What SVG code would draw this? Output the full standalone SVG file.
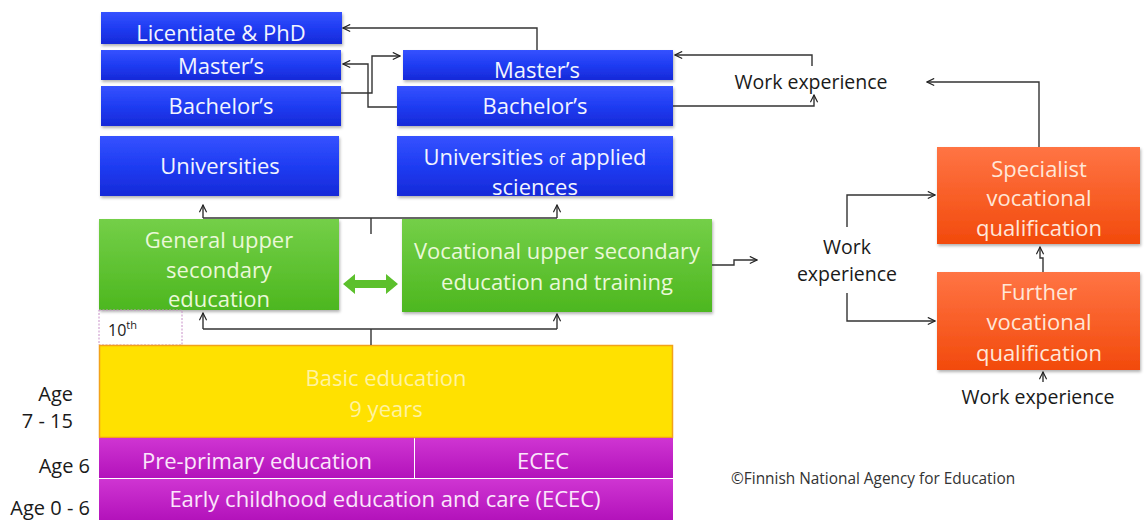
<svg xmlns="http://www.w3.org/2000/svg" width="1145" height="520" viewBox="0 0 1145 520">
<defs>
<linearGradient id="gBlue" x1="0" y1="0" x2="0" y2="1"><stop offset="0" stop-color="#3552ff"/><stop offset="0.5" stop-color="#1f3cf2"/><stop offset="1" stop-color="#1629d8"/></linearGradient>
<linearGradient id="gGreen" x1="0" y1="0" x2="0" y2="1"><stop offset="0" stop-color="#74cf48"/><stop offset="1" stop-color="#4db71f"/></linearGradient>
<linearGradient id="gOrange" x1="0" y1="0" x2="0" y2="1"><stop offset="0" stop-color="#ff7444"/><stop offset="1" stop-color="#f24a0c"/></linearGradient>
<linearGradient id="gPurple" x1="0" y1="0" x2="0" y2="1"><stop offset="0" stop-color="#cf35d2"/><stop offset="1" stop-color="#b312bb"/></linearGradient>
<filter id="sh" x="-5%" y="-10%" width="110%" height="130%"><feDropShadow dx="1" dy="2" stdDeviation="1.5" flood-color="#000" flood-opacity="0.3"/></filter>
<marker id="ah" viewBox="0 0 10 10" refX="9" refY="5" markerWidth="9" markerHeight="9" markerUnits="userSpaceOnUse" orient="auto"><path d="M1,1 L9,5 L1,9" fill="none" stroke="#222" stroke-width="1.3"/></marker>
</defs>
<style>
.t{font-family:"Open Sans","Noto Sans",sans-serif;text-anchor:middle}
.f{font-family:"Open Sans","Noto Sans",sans-serif}
.w{fill:#f2f4ff;font-size:22px}
.g{fill:#eaf8d8;font-size:22px}
.o{fill:#ffe6d8;font-size:22px}
.p{fill:#fbe6fb;font-size:22px}
.y{fill:#fff3a0;font-size:22px}
.k{fill:#1a1a1a;font-size:19.5px}
.a{fill:#1a1a1a;font-size:20px;text-anchor:end}
.c{stroke:#333;stroke-width:1.4;fill:none}
.blue{fill:url(#gBlue);filter:url(#sh)}
.green{fill:url(#gGreen);filter:url(#sh)}
.orange{fill:url(#gOrange);filter:url(#sh)}
.purple{fill:url(#gPurple)}
</style>
<rect width="1145" height="520" fill="#fff"/>

<g id="licentiate"><rect class="blue" x="101" y="12" width="241" height="32"/><text class="t w" x="221" y="41">Licentiate &amp; PhD</text></g>
<g id="masters-uni"><rect class="blue" x="101" y="50" width="240" height="30"/><text class="t w" x="221" y="74">Master’s</text></g>
<g id="bachelors-uni"><rect class="blue" x="101" y="86" width="240" height="40"/><text class="t w" x="221" y="114">Bachelor’s</text></g>
<g id="universities"><rect class="blue" x="100" y="136" width="239" height="60"/><text class="t w" x="220" y="174">Universities</text></g>
<g id="masters-uas"><rect class="blue" x="403" y="50" width="270" height="30"/><text class="t w" x="537" y="78">Master’s</text></g>
<g id="bachelors-uas"><rect class="blue" x="397" y="86" width="276" height="40"/><text class="t w" x="535" y="114">Bachelor’s</text></g>
<g id="uas"><rect class="blue" x="397" y="136" width="276" height="60"/><text class="t w" x="535" y="165">Universities <tspan font-size="17">of</tspan> applied</text><text class="t w" x="535" y="195">sciences</text></g>

<g id="general-upper"><rect class="green" x="99" y="219" width="240" height="91"/><text class="t g" x="219" y="248">General upper</text><text class="t g" x="219" y="278">secondary</text><text class="t g" x="219" y="307">education</text></g>
<g id="vocational-upper"><rect class="green" x="402" y="219" width="310" height="93"/><text class="t g" x="557" y="259">Vocational upper secondary</text><text class="t g" x="557" y="290">education and training</text></g>
<g id="tenth"><rect x="99" y="310" width="83" height="35" fill="none" stroke="#c890c8" stroke-width="1" stroke-dasharray="2,1.5"/><text class="f" x="108" y="336" font-size="16" fill="#1a1a1a">10<tspan font-size="11" dy="-7">th</tspan></text></g>

<g id="basic"><rect x="99.5" y="345.5" width="573" height="92" fill="#ffe100" stroke="#f2a21a" stroke-width="1.5"/><text class="t y" x="386" y="386">Basic education</text><text class="t y" x="386" y="417">9 years</text></g>
<g id="preprimary"><rect class="purple" x="99" y="438" width="315" height="40"/><text class="t p" x="257" y="469">Pre-primary education</text></g>
<g id="ecec6"><rect class="purple" x="415" y="438" width="258" height="40"/><text class="t p" x="543" y="469">ECEC</text></g>
<g id="ecec"><rect class="purple" x="99" y="479" width="574" height="41"/><text class="t p" x="385" y="507">Early childhood education and care (ECEC)</text></g>

<g id="specialist"><rect class="orange" x="937" y="147" width="203" height="97"/><text class="t o" x="1039" y="177">Specialist</text><text class="t o" x="1039" y="206">vocational</text><text class="t o" x="1039" y="236">qualification</text></g>
<g id="further"><rect class="orange" x="937" y="272" width="203" height="98"/><text class="t o" x="1039" y="300">Further</text><text class="t o" x="1039" y="330">vocational</text><text class="t o" x="1039" y="361">qualification</text></g>

<g id="work-top"><text class="t k" x="811" y="89">Work experience</text></g>
<g id="work-mid"><text class="t k" x="847" y="254">Work</text><text class="t k" x="847" y="281">experience</text></g>
<g id="work-bottom"><text class="t k" x="1038" y="404">Work experience</text></g>

<g id="labels">
<text class="f a" x="73" y="401">Age</text>
<text class="f a" x="73" y="428">7 - 15</text>
<text class="f a" x="90" y="473">Age 6</text>
<text class="f a" x="90" y="515">Age 0 - 6</text>
<text class="f" x="731" y="484" font-size="15.4" fill="#333">©Finnish National Agency for Education</text>
</g>

<g id="connectors">
<path class="c" d="M537 50 V28 H343" marker-end="url(#ah)"/>
<path class="c" d="M341 93 H372 V56 H400" marker-end="url(#ah)"/>
<path class="c" d="M397 107 H368 V64 H343" marker-end="url(#ah)"/>
<path class="c" d="M812 66 V55 H675" marker-end="url(#ah)"/>
<path class="c" d="M673 106 H814 V95" marker-end="url(#ah)"/>
<path class="c" d="M1039 147 V82 H927" marker-end="url(#ah)"/>
<path class="c" d="M847 227 V195 H935" marker-end="url(#ah)"/>
<path class="c" d="M847 293 V321 H935" marker-end="url(#ah)"/>
<path class="c" d="M712 265 H734 V260 H757" marker-end="url(#ah)"/>
<path class="c" d="M1043 272 V258 H1040 V247" marker-end="url(#ah)"/>
<path class="c" d="M1043 382 V372" marker-end="url(#ah)"/>
<path class="c" d="M203 218 H557"/>
<path class="c" d="M203 218 V205" marker-end="url(#ah)"/>
<path class="c" d="M557 218 V205" marker-end="url(#ah)"/>
<path class="c" d="M371 218 V234"/>
<path class="c" d="M203 329 H557"/>
<path class="c" d="M203 329 V313" marker-end="url(#ah)"/>
<path class="c" d="M557 329 V314" marker-end="url(#ah)"/>
<path class="c" d="M371 329 V345"/>
<path d="M343 284 L355 274 V280 H386 V274 L398 284 L386 294 V288 H355 V294 Z" fill="#5cc02c"/>
</g>
</svg>
